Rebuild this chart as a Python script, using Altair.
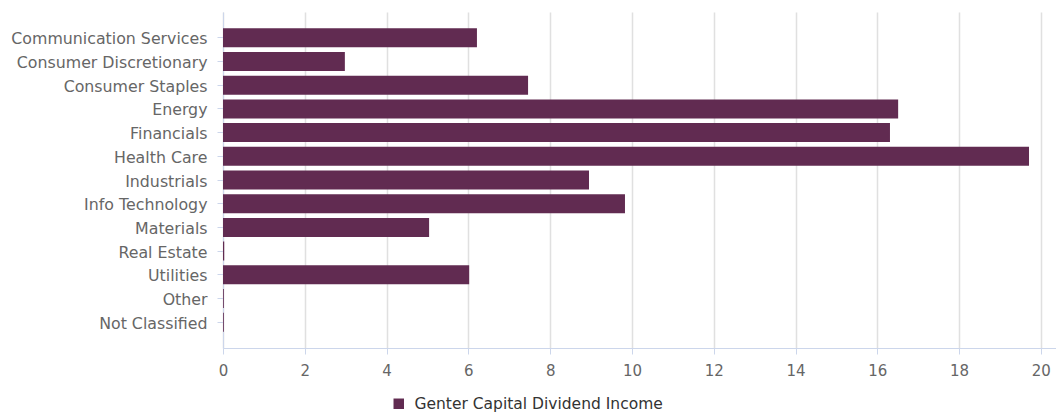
import altair as alt
import pandas as pd

categories = ["Communication Services", "Consumer Discretionary", "Consumer Staples",
              "Energy", "Financials", "Health Care", "Industrials", "Info Technology",
              "Materials", "Real Estate", "Utilities", "Other", "Not Classified"]
values = [6.21, 2.98, 7.46, 16.51, 16.31, 19.71, 8.95, 9.83, 5.04, 0.03, 6.02, 0.02, 0.02]
series_name = "Genter Capital Dividend Income"
x_ticks = [0, 2, 4, 6, 8, 10, 12, 14, 16, 18, 20]

df = pd.DataFrame({"category": categories, "value": values, "series": series_name})

FONT = "DejaVu Sans"
AXIS_COLOR = "#ccd6eb"

chart = alt.Chart(df).mark_bar(size=19).encode(
    y=alt.Y("category:N", sort=categories,
            scale=alt.Scale(paddingInner=0.2, paddingOuter=0.69),
            axis=alt.Axis(title=None, domainColor=AXIS_COLOR, tickColor=AXIS_COLOR,
                          tickSize=6, labelFontSize=15.8, labelColor="#666666",
                          labelFont=FONT, labelPadding=10, grid=False, labelLimit=400,
                          labelOffset=1.5)),
    x=alt.X("value:Q", scale=alt.Scale(domain=[0, 20.37], nice=False, zero=True),
            axis=alt.Axis(title=None, values=x_ticks, domainColor=AXIS_COLOR,
                          tickColor=AXIS_COLOR, tickSize=6, labelFontSize=15,
                          labelColor="#666666", labelFont=FONT, labelPadding=9.5,
                          gridColor="#e0e0e0", gridWidth=1.5, labelFlush=False)),
    color=alt.Color("series:N", scale=alt.Scale(range=["#612b51"]),
                    legend=alt.Legend(orient="none", legendX=168, legendY=384, title=None,
                                      symbolType="square", symbolSize=110,
                                      symbolStrokeWidth=0, labelFontSize=15.5,
                                      labelColor="#333333", labelFont=FONT,
                                      labelOffset=8, labelLimit=500))
).properties(
    width=833, height=336,
    autosize=alt.AutoSizeParams(type="none"),
    padding={"left": 223, "top": 12, "right": 0, "bottom": 67}
).configure_view(stroke=None)

chart.save("out.html", embed_options={"renderer": "svg", "actions": False})
